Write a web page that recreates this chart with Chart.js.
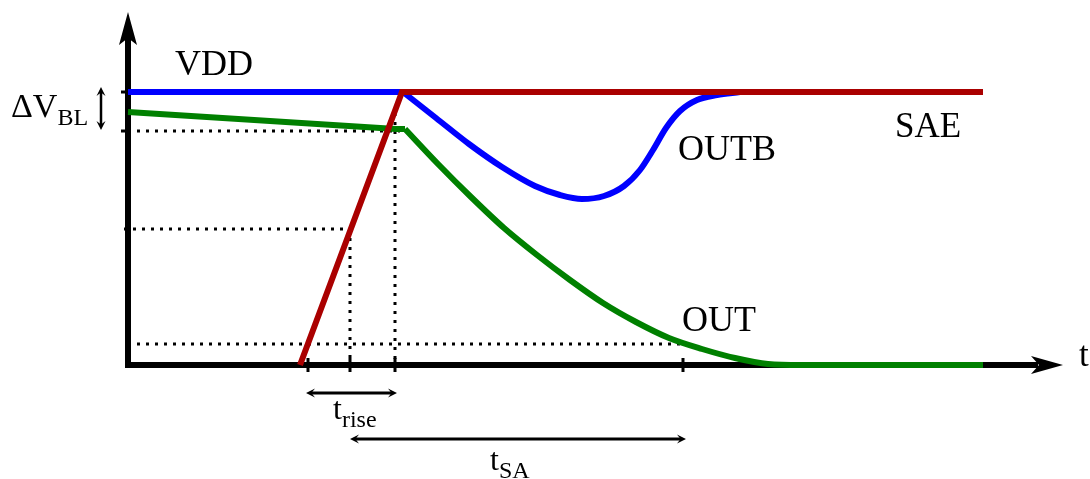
<!DOCTYPE html>
<html>
<head>
<meta charset="utf-8">
<script src="https://cdn.jsdelivr.net/npm/chart.js@4/dist/chart.umd.min.js"></script>
<style>
  html, body { margin: 0; padding: 0; background: #fff; }
  #wrap { width: 1090px; height: 479px; }
</style>
</head>
<body>
<div id="wrap"><canvas id="chart"></canvas></div>
<script>
// time axis (t) and voltage axis (V), origin where the two axes meet
const saeT = [172, 274, 855];
const saeV = [0, 273, 273];

const outbT = [0, 275, 308, 341, 374, 407, 432, 454, 476, 496, 512, 525, 538, 552, 569, 589, 612];
const outbV = [273, 273, 247, 221, 198, 179, 170, 166, 169, 179, 195, 215, 237, 254, 265, 270, 273];

const outT = [0, 268, 277, 310, 343, 376, 409, 442, 475, 508, 541, 574, 607, 640, 673, 855];
const outV = [253, 236, 236, 201, 168, 137, 110, 85, 62, 43, 27, 16, 7, 1, 0, 0];

// levels and instants marked on the axes
const vdd = 273;
const vStart = 234;
const vHalf = 136;
const vLow = 21;
const tRiseStart = 180;
const tHalf = 222;
const tRiseEnd = 267;
const tOut = 555;
const xTicks = [tRiseStart, tHalf, tRiseEnd, tOut];
const yTicks = [vdd, vStart];

const toPts = (ts, vs) => ts.map((t, i) => ({ x: t, y: vs[i] }));

function line(label, pts, color, extra) {
  return Object.assign({
    label: label,
    data: pts,
    showLine: true,
    borderColor: color,
    borderWidth: 6,
    pointRadius: 0,
    tension: 0,
    borderCapStyle: "butt",
    borderJoinStyle: "miter",
  }, extra || {});
}

const dotted = { borderWidth: 3, borderDash: [3, 6] };
const smooth = { cubicInterpolationMode: "monotone" };

// ================== PLUGIN: axes, arrows, labels ==================
const decor = {
  id: "decor",
  beforeDatasetsDraw(chart) {
    const { ctx, scales: { x, y } } = chart;
    const px = (t) => x.getPixelForValue(t);
    const py = (v) => y.getPixelForValue(v);
    ctx.save();
    ctx.strokeStyle = "#000";
    ctx.fillStyle = "#000";
    ctx.lineWidth = 6;
    // axes
    ctx.beginPath();
    ctx.moveTo(px(0), py(-2));
    ctx.lineTo(px(0), py(330));
    ctx.moveTo(px(-3), py(0));
    ctx.lineTo(px(910), py(0));
    ctx.stroke();
    // arrow heads of axes
    ctx.beginPath();
    ctx.moveTo(px(0), py(353));
    ctx.lineTo(px(-9), py(320));
    ctx.lineTo(px(0), py(327));
    ctx.lineTo(px(9), py(320));
    ctx.closePath();
    ctx.fill();
    ctx.beginPath();
    ctx.moveTo(px(935), py(0));
    ctx.lineTo(px(903), py(9));
    ctx.lineTo(px(911), py(0));
    ctx.lineTo(px(903), py(-9));
    ctx.closePath();
    ctx.fill();
    // ticks
    ctx.lineWidth = 3;
    ctx.beginPath();
    xTicks.forEach((t) => {
      ctx.moveTo(px(t), py(7));
      ctx.lineTo(px(t), py(-7));
    });
    yTicks.forEach((v) => {
      ctx.moveTo(px(-7), py(v));
      ctx.lineTo(px(0), py(v));
    });
    ctx.stroke();
    ctx.restore();
  },
  afterDatasetsDraw(chart) {
    const { ctx, scales: { x, y } } = chart;
    const px = (t) => x.getPixelForValue(t);
    const py = (v) => y.getPixelForValue(v);
    ctx.save();
    ctx.strokeStyle = "#000";
    ctx.fillStyle = "#000";

    function head(x0, y0, dx, dy) {
      // small arrow head pointing along (dx, dy)
      const L = 9, W = 4.5;
      ctx.beginPath();
      ctx.moveTo(x0, y0);
      ctx.lineTo(x0 - dx * L - dy * W, y0 - dy * L + dx * W);
      ctx.lineTo(x0 - dx * L * 0.6, y0 - dy * L * 0.6);
      ctx.lineTo(x0 - dx * L + dy * W, y0 - dy * L - dx * W);
      ctx.closePath();
      ctx.fill();
    }
    function hArrow(t1, t2, v) {
      const a = px(t1), b = px(t2), c = py(v);
      ctx.lineWidth = 3;
      ctx.beginPath();
      ctx.moveTo(a + 4, c);
      ctx.lineTo(b - 4, c);
      ctx.stroke();
      head(a, c, -1, 0);
      head(b, c, 1, 0);
    }
    function vArrow(t, v1, v2) {
      const a = px(t), b = py(v1), c = py(v2);
      ctx.lineWidth = 2.5;
      ctx.beginPath();
      ctx.moveTo(a, b + 4);
      ctx.lineTo(a, c - 4);
      ctx.stroke();
      head(a, b, 0, -1);
      head(a, c, 0, 1);
    }
    hArrow(178, 269, -28);
    hArrow(tHalf, 558, -74);
    vArrow(-27, 278, 235);

    function label(text, sub, t, v, size) {
      ctx.font = size + 'px "Liberation Serif"';
      ctx.textBaseline = "alphabetic";
      ctx.textAlign = "left";
      const x0 = px(t), y0 = py(v);
      ctx.fillText(text, x0, y0);
      if (sub) {
        const w = ctx.measureText(text).width;
        ctx.font = '24px "Liberation Serif"';
        ctx.fillText(sub, x0 + w, y0 + 8);
      }
    }
    label("VDD", null, 47, 290, 36);
    label("\u0394V", "BL", -117, 248, 34);
    label("OUTB", null, 550, 205, 36);
    label("SAE", null, 767, 228, 35);
    label("OUT", null, 554, 34, 36);
    label("t", null, 951, -1, 35);
    label("t", "rise", 205, -54, 32);
    label("t", "SA", 362, -105, 32);
    ctx.restore();
  },
};

const outbPts = toPts(outbT, outbV);
const outPts = toPts(outT, outV);

new Chart(document.getElementById("chart"), {
  type: "scatter",
  data: {
    datasets: [
      line("SAE", toPts(saeT, saeV), "#aa0000"),
      line("OUTB", outbPts.slice(0, 2), "#0000ff"),
      line("OUTB", outbPts.slice(1), "#0000ff", smooth),
      line("OUT", outPts.slice(0, 3), "#008000"),
      line("OUT", outPts.slice(2), "#008000", smooth),
      line("", toPts([0, 272], [vStart, vStart]), "#000", dotted),
      line("", toPts([-4, tHalf], [vHalf, vHalf]), "#000", dotted),
      line("", toPts([0, tOut], [vLow, vLow]), "#000", dotted),
      line("", toPts([tHalf, tHalf], [vHalf, 0]), "#000", dotted),
      line("", toPts([tRiseEnd, tRiseEnd], [252, 0]), "#000", dotted),
    ],
  },
  options: {
    responsive: true,
    maintainAspectRatio: false,
    animation: false,
    layout: { padding: 0 },
    plugins: { legend: { display: false }, tooltip: { enabled: false } },
    scales: {
      x: { type: "linear", min: -128, max: 962, display: false },
      y: { type: "linear", min: -114, max: 365, display: false },
    },
  },
  plugins: [decor],
});
</script>
</body>
</html>
